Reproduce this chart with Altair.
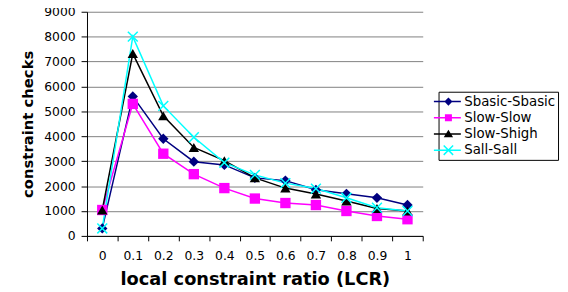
import altair as alt
import pandas as pd

ratios = ["0", "0.1", "0.2", "0.3", "0.4", "0.5", "0.6", "0.7", "0.8", "0.9", "1"]
series_names = ["Sbasic-Sbasic", "Slow-Slow", "Slow-Shigh", "Sall-Sall"]
sbasic = [300, 5600, 3900, 2980, 2850, 2330, 2220, 1850, 1690, 1530, 1240]
slow_slow = [1040, 5300, 3300, 2480, 1920, 1500, 1320, 1240, 1000, 800, 670]
slow_shigh = [1040, 7320, 4820, 3550, 3020, 2330, 1920, 1680, 1400, 1100, 1000]
sall = [300, 8000, 5220, 3960, 2940, 2450, 2120, 1900, 1530, 1130, 1000]
colors = ["#000080", "#FF00FF", "#000000", "#00FFFF"]
marker_shapes = ["diamond", "square", "triangle-up", "M-1,-1L1,1M1,-1L-1,1"]
y_ticks = [0, 1000, 2000, 3000, 4000, 5000, 6000, 7000, 8000, 9000]

rows = []
for name, vals in zip(series_names, [sbasic, slow_slow, slow_shigh, sall]):
    for r, v in zip(ratios, vals):
        rows.append({"ratio": r, "checks": v, "series": name})
df = pd.DataFrame(rows)

FONT = "DejaVu Sans"

x_enc = alt.X("ratio:N", sort=ratios,
              scale=alt.Scale(type="band", paddingInner=0, paddingOuter=0),
              axis=alt.Axis(title="local constraint ratio (LCR)", labelAngle=0,
                            tickBand="extent", tickSize=5, labelPadding=9,
                            titlePadding=9, grid=False, domainColor="black",
                            tickColor="black"))
y_enc = alt.Y("checks:Q", scale=alt.Scale(domain=[0, 9000], nice=False),
              axis=alt.Axis(title="constraint checks", values=y_ticks, format="d",
                            tickSize=6, labelPadding=6, titlePadding=8, grid=True,
                            gridColor="#808080", domainColor="black",
                            tickColor="black"))

base = alt.Chart(df)

series_layers = []
for name, col in zip(series_names, colors):
    series_layers.append(
        base.transform_filter(alt.datum.series == name).mark_line(
            strokeWidth=1.5, color=col
        ).encode(x=x_enc, y=y_enc, order=alt.Order("ratio:N"))
    )
for name, col, shp in zip(series_names, colors, marker_shapes):
    is_x = shp.startswith("M")
    series_layers.append(
        base.transform_filter(alt.datum.series == name).mark_point(
            filled=not is_x, size=100 if is_x else 110, opacity=1,
            strokeWidth=1.5 if is_x else 0.5, shape=shp, color=col,
        ).encode(x=x_enc, y=y_enc)
    )

# legend symbols: a line segment with the marker drawn as nested outlines
legend_paths = [
    "M-2.1,0H1.8M0,-0.44L0.44,0L0,0.44L-0.44,0ZM0,-0.22L0.22,0L0,0.22L-0.22,0Z",
    "M-2.1,0H1.8M-0.4,-0.4H0.4V0.4H-0.4ZM-0.2,-0.2H0.2V0.2H-0.2ZM-0.4,0H0.4",
    "M-2.1,0H1.8M0,-0.4L0.48,0.36H-0.48ZM0,-0.1L0.2,0.24H-0.2ZM0,-0.4V0.36",
    "M-2.1,0H1.8M-0.68,-0.68L0.68,0.68M0.68,-0.68L-0.68,0.68",
]
leg = alt.Legend(title=None, orient="none", legendX=356, legendY=81, labelOffset=8,
                 labelExpr="datum.label + '\u00a0\u00a0'")
legend_layer = base.transform_filter("false").mark_point(
    size=196, opacity=1, strokeWidth=1.5, filled=False
).encode(
    x=x_enc, y=y_enc,
    color=alt.Color("series:N", scale=alt.Scale(domain=series_names, range=colors),
                    legend=leg),
    shape=alt.Shape("series:N", scale=alt.Scale(domain=series_names, range=legend_paths),
                    legend=leg),
)

chart = alt.layer(*series_layers, legend_layer).properties(
    width=340, height=227,
    autosize=alt.AutoSizeParams(type="none"),
    padding={"left": 80, "top": 2, "right": 139, "bottom": 55},
).configure_view(stroke=None).configure_axis(
    labelFont=FONT, labelFontSize=12.5, labelColor="black",
    titleFont=FONT, titleFontWeight="bold", titleColor="black",
).configure_axisX(titleFontSize=18).configure_axisY(titleFontSize=15).configure_legend(
    labelFont=FONT, labelFontSize=13.5, labelColor="black",
    strokeColor="black", fillColor="white", padding=2, rowPadding=1.4,
    symbolSize=196, symbolStrokeWidth=1.5,
)

chart.save("out.html", embed_options={"renderer": "svg", "actions": False})
